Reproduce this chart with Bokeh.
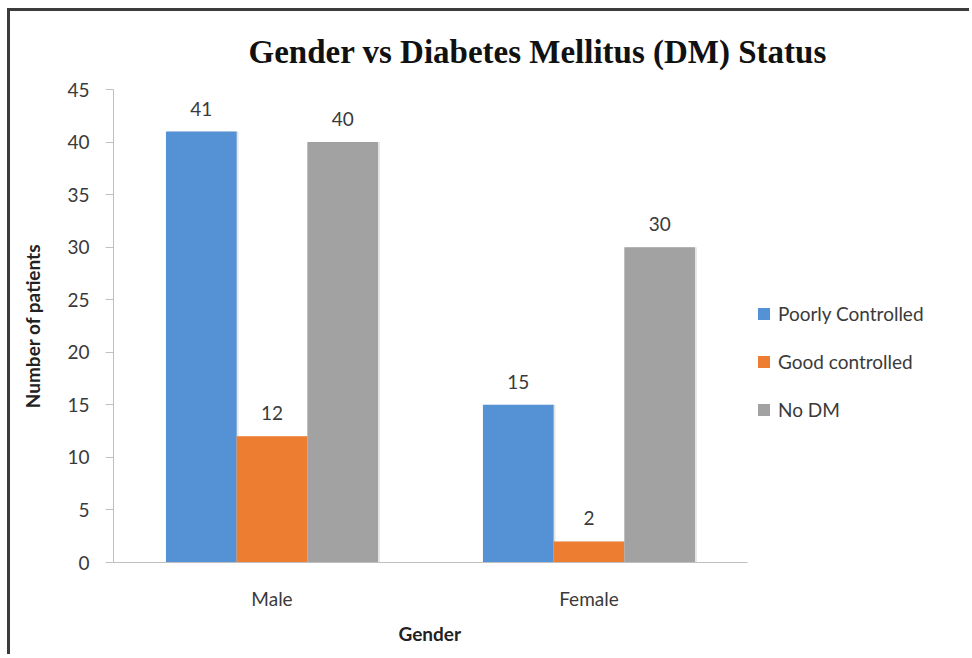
from bokeh.plotting import figure
from bokeh.models import ColumnDataSource, FixedTicker, Legend, LegendItem, Title
from bokeh.transform import dodge
from bokeh.core.properties import value
from bokeh.embed import file_html
from bokeh.resources import INLINE

# Patient counts by gender and diabetes status
genders = ["Male", "Female"]
poorly_controlled = [41, 15]
good_controlled = [12, 2]
no_dm = [40, 30]
series_names = ["Poorly Controlled", "Good controlled", "No DM"]
y_ticks = [0, 5, 10, 15, 20, 25, 30, 35, 40, 45]

colors = ["#5592d5", "#ed7d31", "#a2a2a2"]
label_font = "Lato"
text_color = "#3a3a3a"

# one unit per gender group, groups centred at 0.5, 1.5
centers = [i + 0.5 for i in range(len(genders))]
bar_w = 0.223
offsets = [-bar_w, 0.0, bar_w]

source = ColumnDataSource(data=dict(
    center=centers,
    poorly=poorly_controlled,
    good=good_controlled,
    nodm=no_dm,
    poorly_txt=[str(v) for v in poorly_controlled],
    good_txt=[str(v) for v in good_controlled],
    nodm_txt=[str(v) for v in no_dm],
))
for off, fld in zip(offsets, ["poorly", "good", "nodm"]):
    source.data[fld + "_x"] = [c + off for c in centers]

# plot area runs to the right edge so the legend sits inside it;
# the x axis line is bounded to the two gender groups
p = figure(
    width=962, height=646,
    x_range=(0, 2.71),
    y_range=(0, 45),
    output_backend="svg", toolbar_location=None,
    min_border_left=103, min_border_right=0,
    min_border_top=78, min_border_bottom=95,
)
# dark frame line along the top and left edges of the chart box
p.margin = (8, 0, 0, 7)
p.styles = {"border-top": "3px solid #3c3c3c", "border-left": "3px solid #3c3c3c"}

p.outline_line_color = None
p.xgrid.grid_line_color = None
p.ygrid.grid_line_color = None
p.background_fill_color = "white"
p.border_fill_color = "white"

fields = ["poorly", "good", "nodm"]
renderers = []
for fld, col in zip(fields, colors):
    # soft drop shadow behind each bar
    p.vbar(x=dodge(fld + "_x", 0.006), top=fld, bottom=0, width=bar_w, source=source,
           fill_color="#000000", fill_alpha=0.10, line_color=None)
    r = p.vbar(x=fld + "_x", top=fld, bottom=0, width=bar_w, source=source,
               fill_color=col, line_color=None)
    renderers.append(r)
    p.text(x=fld + "_x", y=fld, text=fld + "_txt", source=source,
           text_font=value(label_font), text_font_size="19px", text_color=text_color,
           text_align="center", text_baseline="bottom", y_offset=-16)

# Axes
p.yaxis.ticker = FixedTicker(ticks=y_ticks)
p.yaxis.minor_tick_line_color = None
p.yaxis.major_tick_in = 0
p.yaxis.major_tick_out = 8
p.yaxis.major_label_standoff = 16
p.yaxis.axis_line_color = "#bfbfbf"
p.yaxis.major_tick_line_color = "#bfbfbf"
p.yaxis.major_label_text_font = label_font
p.yaxis.major_label_text_font_size = "19px"
p.yaxis.major_label_text_color = text_color
p.yaxis.axis_label = "Number of patients"
p.yaxis.axis_label_text_font = label_font
p.yaxis.axis_label_text_font_style = "bold"
p.yaxis.axis_label_text_font_size = "19px"
p.yaxis.axis_label_text_color = "#222222"
p.yaxis.axis_label_standoff = 20

p.xaxis.ticker = FixedTicker(ticks=centers)
p.xaxis.major_label_overrides = {c: g for c, g in zip(centers, genders)}
p.xaxis.bounds = (0, len(genders))
p.xaxis.major_tick_line_color = None
p.xaxis.minor_tick_line_color = None
p.xaxis.major_tick_out = 0
p.xaxis.major_tick_in = 0
p.xaxis.axis_line_color = "#bfbfbf"
p.xaxis.major_label_standoff = 24
p.xaxis.major_label_text_font = label_font
p.xaxis.major_label_text_font_size = "19px"
p.xaxis.major_label_text_color = text_color

# x axis title, centred under the two gender groups
x_title = Title(text="Gender", align="left", offset=285,
                text_font=label_font, text_font_style="bold", text_font_size="19px",
                text_color="#222222", standoff=14)
p.add_layout(x_title, "below")

# Chart title
title = Title(text="Gender vs Diabetes Mellitus (DM) Status", align="left", offset=135,
              vertical_align="top",
              text_font="Liberation Serif", text_font_style="bold", text_font_size="33px",
              text_color="#111111", standoff=36)
p.add_layout(title, "above")

# Legend to the right of the bars
legend = Legend(
    items=[LegendItem(label=n, renderers=[r]) for n, r in zip(series_names, renderers)],
    location=(643, 141),
    orientation="vertical",
    border_line_color=None, background_fill_alpha=0,
    padding=0, margin=0, spacing=25,
    glyph_width=15, glyph_height=15, label_standoff=7,
    label_text_font=label_font, label_text_font_size="19px", label_text_color=text_color,
)
p.add_layout(legend, "center")

open("out.html", "w").write(file_html(p, INLINE))
